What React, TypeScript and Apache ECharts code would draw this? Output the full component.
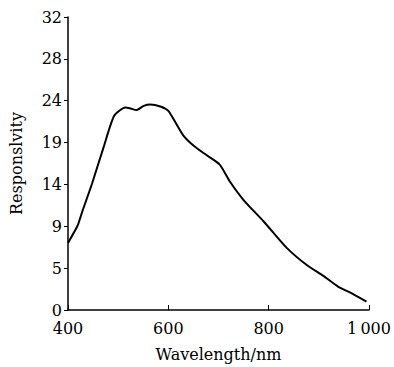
import React, { useEffect, useRef } from "react";
import * as echarts from "echarts";

const wavelengths = [400, 419, 428, 448, 471, 492, 514, 525, 536, 551, 564, 584, 600, 614, 630, 650, 670, 702, 723, 750, 790, 836, 876, 909, 939, 962, 995];
const responsivity = [7.33, 9.2, 10.68, 13.82, 17.79, 21.21, 22.12, 22.01, 21.83, 22.29, 22.44, 22.23, 21.75, 20.5, 19.05, 17.96, 17.14, 15.91, 14.0, 12.01, 9.67, 6.79, 4.91, 3.72, 2.53, 1.92, 0.91];
const yTickLabels = ["0", "5", "9", "14", "19", "24", "28", "32"];
const xTickLabels: Record<number, string> = { 400: "400", 600: "600", 800: "800", 1000: "1\u2009000" };

const FONT = "DejaVu Serif";

export default function App() {
  const ref = useRef<HTMLDivElement>(null);
  useEffect(() => {
    if (!ref.current) return;
    const chart = echarts.init(ref.current, undefined, { renderer: "svg" });
    const yStep = 32 / 7;
    chart.setOption({
      animation: false,
      backgroundColor: "#fff",
      grid: { left: 68, right: 25, top: 17, bottom: 54, containLabel: false },
      xAxis: {
        type: "value",
        min: 400,
        max: 1000,
        interval: 200,
        name: "Wavelength/nm",
        nameLocation: "middle",
        nameGap: 36,
        nameTextStyle: { fontFamily: FONT, fontSize: 16, color: "#000" },
        axisLine: { show: true, lineStyle: { color: "#000", width: 1.5 } },
        axisTick: { show: true, inside: true, length: 5, lineStyle: { color: "#000", width: 1 } },
        axisLabel: {
          fontFamily: FONT,
          fontSize: 16,
          color: "#000",
          margin: 10,
          formatter: (v: number) => xTickLabels[v] ?? String(v),
        },
        splitLine: { show: false },
      },
      yAxis: {
        type: "value",
        min: 0,
        max: 32,
        interval: yStep,
        name: "Responslvity",
        nameLocation: "middle",
        nameGap: 44,
        nameRotate: 90,
        nameTextStyle: { fontFamily: FONT, fontSize: 16, color: "#000" },
        axisLine: { show: true, lineStyle: { color: "#000", width: 1.5 } },
        axisTick: { show: true, inside: false, length: 4, lineStyle: { color: "#000", width: 1 } },
        axisLabel: {
          fontFamily: FONT,
          fontSize: 16,
          color: "#000",
          margin: 6,
          formatter: (v: number) => yTickLabels[Math.round(v / yStep)] ?? "",
        },
        splitLine: { show: false },
      },
      series: [
        {
          type: "line",
          data: wavelengths.map((w, i) => [w, responsivity[i]]),
          showSymbol: false,
          smooth: 0.2,
          lineStyle: { color: "#000", width: 2 },
        },
      ],
    });
    return () => chart.dispose();
  }, []);
  return (
    <div
      ref={ref}
      style={{ position: "fixed", left: 0, top: 0, width: 394, height: 367, background: "#fff" }}
    />
  );
}
